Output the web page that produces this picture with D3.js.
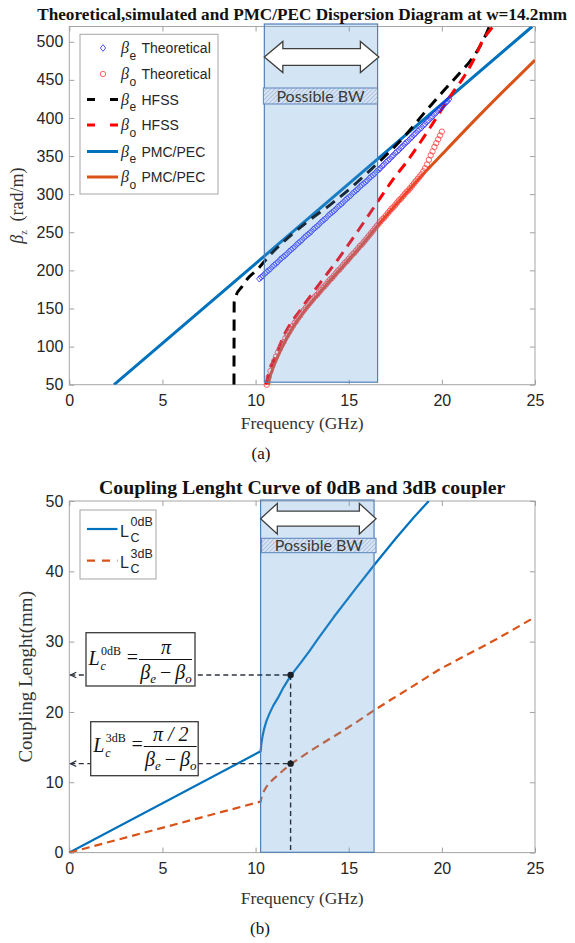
<!DOCTYPE html>
<html>
<head>
<meta charset="utf-8">
<script src="https://cdn.jsdelivr.net/npm/d3@7"></script>
<style>
  body { margin: 0; background: #fff; }
  svg { display: block; font-family: "Liberation Sans", Arial, sans-serif; }
</style>
</head>
<body>
<svg id="chart" width="575" height="943"></svg>
<script>
// ---- data ----
const xTicks = [0, 5, 10, 15, 20, 25];
const yTicksTop = [50, 100, 150, 200, 250, 300, 350, 400, 450, 500];
const yTicksBottom = [0, 10, 20, 30, 40, 50];

// (a) dispersion, [GHz, rad/m]
const betaEPmc = [[2.4, 50], [10, 208.9], [17, 355.4], [24.85, 520]];
const betaOPmc = [[10.7, 50], [10.75, 58], [10.85, 66], [10.95, 73], [11.1, 82], [11.4, 98], [11.9, 121],
  [12.3, 136], [12.7, 149], [13.8, 181], [14.9, 211], [15.8, 236], [16.6, 260], [17.6, 288], [18.8, 321],
  [20, 352], [22, 403], [25, 476]];
const betaEHfss = [[8.84, 50], [8.845, 110], [8.85, 158], [8.95, 167], [9.25, 178], [9.6, 190], [10.05, 200],
  [10.77, 220], [11.66, 241], [12.74, 263], [14, 286], [15.24, 311], [16, 328], [17, 351], [18, 376],
  [19, 405], [20, 433], [21, 460], [21.5, 474], [22, 492], [22.3, 506], [22.55, 520]];
const betaOHfss = [[10.55, 50], [10.6, 55], [10.8, 72], [11.04, 86], [11.57, 117], [12.4, 148], [13.45, 183],
  [14.5, 217], [15.5, 252], [16.5, 288], [17.4, 320], [18.1, 342], [19.44, 390], [20.6, 434],
  [21.1, 451], [21.7, 476], [22.2, 502], [22.75, 520]];
const betaETheory = [[10.2, 189], [10.3, 191], [10.4, 193], [10.5, 196], [10.6, 198], [10.7, 200], [10.8, 202],
  [10.9, 205], [11.0, 207], [11.1, 209], [11.2, 211], [11.3, 214], [11.4, 216], [11.5, 218], [11.6, 220],
  [11.7, 222], [11.8, 225], [11.9, 227], [12.0, 229], [12.1, 231], [12.2, 234], [12.3, 236], [12.4, 238],
  [12.5, 240], [12.6, 243], [12.7, 245], [12.8, 247], [12.9, 249], [13.0, 251], [13.1, 254], [13.2, 256],
  [13.3, 258], [13.4, 260], [13.5, 263], [13.6, 265], [13.7, 267], [13.8, 269], [13.9, 272], [14.0, 274],
  [14.1, 276], [14.2, 278], [14.3, 280], [14.4, 283], [14.5, 285], [14.6, 287], [14.7, 289], [14.8, 292],
  [14.9, 294], [15.0, 296], [15.1, 298], [15.2, 301], [15.3, 303], [15.4, 305], [15.5, 307], [15.6, 310],
  [15.7, 312], [15.8, 314], [15.9, 316], [16.0, 318], [16.1, 321], [16.2, 323], [16.3, 325], [16.4, 327],
  [16.5, 330], [16.6, 332], [16.7, 334], [16.8, 337], [16.9, 339], [17.0, 342], [17.1, 344], [17.2, 346],
  [17.3, 349], [17.4, 351], [17.5, 354], [17.6, 356], [17.7, 358], [17.8, 361], [17.9, 363], [18.0, 366],
  [18.1, 368], [18.2, 370], [18.3, 373], [18.4, 375], [18.5, 378], [18.6, 380], [18.7, 383], [18.8, 385],
  [18.9, 387], [19.0, 390], [19.1, 392], [19.2, 395], [19.3, 397], [19.4, 400], [19.5, 402], [19.6, 405],
  [19.7, 407], [19.8, 410], [19.9, 412], [20.0, 415], [20.1, 417], [20.2, 420], [20.3, 422], [20.4, 425]];
const betaOTheory = [[10.6, 50], [10.7, 60], [10.8, 68], [10.9, 75], [11.0, 81], [11.1, 87], [11.2, 92],
  [11.3, 97], [11.4, 102], [11.5, 106], [11.6, 111], [11.7, 115], [11.8, 119], [11.9, 123], [12.0, 127],
  [12.1, 131], [12.2, 134], [12.3, 138], [12.4, 141], [12.5, 145], [12.6, 148], [12.7, 151], [12.8, 154],
  [12.9, 157], [13.0, 160], [13.1, 163], [13.2, 166], [13.3, 168], [13.4, 171], [13.5, 174], [13.6, 177],
  [13.7, 179], [13.8, 182], [13.9, 185], [14.0, 188], [14.1, 190], [14.2, 193], [14.3, 196], [14.4, 199],
  [14.5, 201], [14.6, 204], [14.7, 207], [14.8, 210], [14.9, 212], [15.0, 215], [15.1, 218], [15.2, 221],
  [15.3, 223], [15.4, 226], [15.5, 229], [15.6, 232], [15.7, 234], [15.8, 237], [15.9, 240], [16.0, 243],
  [16.1, 246], [16.2, 249], [16.3, 252], [16.4, 255], [16.5, 258], [16.6, 261], [16.7, 264], [16.8, 267],
  [16.9, 269], [17.0, 272], [17.1, 275], [17.2, 278], [17.3, 281], [17.4, 283], [17.5, 286], [17.6, 289],
  [17.7, 292], [17.8, 294], [17.9, 297], [18.0, 300], [18.1, 303], [18.2, 305], [18.3, 308], [18.4, 311],
  [18.5, 314], [18.6, 317], [18.7, 320], [18.8, 323], [18.9, 326], [19.0, 330], [19.1, 334], [19.2, 339],
  [19.3, 345], [19.4, 351], [19.5, 356], [19.6, 362], [19.7, 367], [19.8, 372], [19.9, 377], [20.0, 382]];

// (b) coupling length, [GHz, mm]
const lc0dB = [[0, 0], [10.27, 14.4], [10.31, 15.5], [10.37, 16.5], [10.46, 17.6], [10.58, 18.7], [10.75, 19.8],
  [10.95, 20.9], [11.2, 22.0], [11.5, 23.5], [11.9, 25.2], [12.4, 26.9], [12.9, 28.7], [13.3, 30.2],
  [14.2, 33.5], [15.3, 37.3], [16.4, 41.0], [17.5, 44.6], [18.5, 47.7], [19.3, 50]];
const lc3dB = [[0, 0], [10.27, 7.25], [10.31, 7.8], [10.37, 8.3], [10.46, 8.8], [10.58, 9.35], [10.75, 9.9],
  [10.95, 10.45], [11.2, 11.0], [11.5, 11.75], [11.9, 12.6], [12.4, 13.5], [12.9, 14.4], [13.5, 15.4],
  [14.5, 17.0], [15.5, 18.7], [16.4, 20.3], [17.3, 21.8], [18.1, 23.1], [19.0, 24.6], [19.9, 26.1],
  [21.4, 28.2], [22.9, 30.3], [25, 33.5]];

const bwTop = [10.47, 16.55];
const bwBottom = [10.27, 16.36];
const markFreq = 11.88, markL0 = 25.26, markL3 = 12.65;

// ---- layout ----
const plotLeft = 69.3, plotW = 465.7;
const top1 = 26.5, h1 = 358.2;
const top2 = 501, h2 = 351.6;

const svg = d3.select("#chart");
const defs = svg.append("defs");

const hatch = defs.append("pattern")
    .attr("id", "hatch")
    .attr("patternUnits", "userSpaceOnUse")
    .attr("width", 3).attr("height", 3)
    .attr("patternTransform", "rotate(45)");
hatch.append("rect").attr("width", 3).attr("height", 3).attr("fill", "#d9e5f4");
hatch.append("line").attr("x1", 0).attr("y1", 0).attr("x2", 0).attr("y2", 3)
    .attr("stroke", "#7b9ccb").attr("stroke-width", 1);

const x1 = d3.scaleLinear().domain([0, 25]).range([0, plotW]);
const y1 = d3.scaleLinear().domain([50, 520]).range([h1, 0]);
const x2 = d3.scaleLinear().domain([0, 25]).range([0, plotW]);
const y2 = d3.scaleLinear().domain([0, 50]).range([h2, 0]);

const serif = "Liberation Serif, Times New Roman, serif";
const sans = "Liberation Sans, Arial, sans-serif";

function drawFrame(g, x, y, h, yTicks) {
  g.append("rect")
      .attr("width", plotW).attr("height", h)
      .attr("fill", "none").attr("stroke", "#a6a6a6");
  g.append("g").attr("transform", `translate(0,${h})`)
      .call(d3.axisBottom(x).tickValues(xTicks).tickSize(-5).tickSizeOuter(0).tickPadding(10));
  g.append("g")
      .call(d3.axisLeft(y).tickValues(yTicks).tickSize(-5).tickSizeOuter(0).tickPadding(6));
  g.append("g")
      .call(d3.axisTop(x).tickValues(xTicks).tickSize(-5).tickSizeOuter(0).tickFormat(""));
  g.append("g").attr("transform", `translate(${plotW},0)`)
      .call(d3.axisRight(y).tickValues(yTicks).tickSize(-5).tickSizeOuter(0).tickFormat(""));
  g.selectAll(".domain").remove();
  g.selectAll(".tick line").attr("stroke", "#a0a0a0");
  g.selectAll(".tick text")
      .attr("fill", "#262626")
      .attr("font-size", 16)
      .attr("font-family", sans);
}

function dblArrow(g, xa, xb, cy, headH, shaftH, headL) {
  const p = d3.path();
  p.moveTo(xa, cy);
  p.lineTo(xa + headL, cy - headH);
  p.lineTo(xa + headL, cy - shaftH);
  p.lineTo(xb - headL, cy - shaftH);
  p.lineTo(xb - headL, cy - headH);
  p.lineTo(xb, cy);
  p.lineTo(xb - headL, cy + headH);
  p.lineTo(xb - headL, cy + shaftH);
  p.lineTo(xa + headL, cy + shaftH);
  p.lineTo(xa + headL, cy + headH);
  p.closePath();
  g.append("path").attr("d", p.toString())
      .attr("fill", "#fff").attr("stroke", "#3f3f3f").attr("stroke-width", 1.3);
}

function bwBox(g, xa, xb, ya, yb, fs, base) {
  g.append("rect").attr("x", xa).attr("y", ya).attr("width", xb - xa).attr("height", yb - ya)
      .attr("fill", "url(#hatch)").attr("stroke", "#5a85bd").attr("stroke-width", 1);
  g.append("text").attr("x", (xa + xb) / 2).attr("y", base)
      .attr("text-anchor", "middle").attr("font-family", "Lato, Liberation Sans, sans-serif")
      .attr("font-size", fs).attr("fill", "#3a3a3a").text("Possible BW");
}

// ================= (a) =================
const g1 = svg.append("g").attr("transform", `translate(${plotLeft},${top1})`);
defs.append("clipPath").attr("id", "clip1").append("rect")
    .attr("width", plotW).attr("height", h1);

drawFrame(g1, x1, y1, h1, yTicksTop);

const line1 = d3.line().curve(d3.curveMonotoneX)
    .x(d => x1(d[0])).y(d => y1(d[1]));

const curves1 = g1.append("g").attr("clip-path", "url(#clip1)");
curves1.append("path").datum(betaEPmc).attr("d", line1)
    .attr("fill", "none").attr("stroke", "#0072BD").attr("stroke-width", 3);
curves1.append("path").datum(betaOPmc).attr("d", line1)
    .attr("fill", "none").attr("stroke", "#D95319").attr("stroke-width", 3);

g1.append("g").selectAll("path").data(betaETheory).join("path")
    .attr("transform", d => `translate(${x1(d[0])},${y1(d[1])})`)
    .attr("d", "M0,-3.3L2.7,0L0,3.3L-2.7,0Z")
    .attr("fill", "none").attr("stroke", "#2a2aff").attr("stroke-width", 0.8);
g1.append("g").selectAll("circle").data(betaOTheory).join("circle")
    .attr("cx", d => x1(d[0])).attr("cy", d => y1(d[1])).attr("r", 2.7)
    .attr("fill", "none").attr("stroke", "#ff3b3b").attr("stroke-width", 0.8);

curves1.append("path").datum(betaEHfss).attr("d", line1)
    .attr("fill", "none").attr("stroke", "#000").attr("stroke-width", 3)
    .attr("stroke-dasharray", "11,7");
curves1.append("path").datum(betaOHfss).attr("d", line1)
    .attr("fill", "none").attr("stroke", "#ff0000").attr("stroke-width", 3)
    .attr("stroke-dasharray", "11,7");

// possible bandwidth overlay
const bx1a = x1(bwTop[0]), bx1b = x1(bwTop[1]);
g1.append("rect").attr("x", bx1a).attr("y", -2.5).attr("width", bx1b - bx1a).attr("height", h1)
    .attr("fill", "#5b9bd5").attr("fill-opacity", 0.27)
    .attr("stroke", "#5480b8").attr("stroke-width", 1.2);
dblArrow(g1, bx1a, bx1b + 1.3, 30.5, 15.5, 8.3, 18.5);
bwBox(g1, bx1a - 1, bx1b, 61.5, 77.5, 16, 75);

// legend (a)
const leg1 = svg.append("g");
leg1.append("rect").attr("x", 80).attr("y", 34.3).attr("width", 138).attr("height", 159.7)
    .attr("fill", "#fff").attr("stroke", "#a6a6a6");
const legRows1 = [
  {y: 48, sub: "e", label: "Theoretical", kind: "diamond"},
  {y: 74, sub: "o", label: "Theoretical", kind: "circle"},
  {y: 99.5, sub: "e", label: "HFSS", kind: "dash", color: "#000"},
  {y: 125, sub: "o", label: "HFSS", kind: "dash", color: "#ff0000"},
  {y: 151.5, sub: "e", label: "PMC/PEC", kind: "line", color: "#0072BD"},
  {y: 177, sub: "o", label: "PMC/PEC", kind: "line", color: "#D95319"}
];
legRows1.forEach(r => {
  if (r.kind === "diamond") {
    leg1.append("path").attr("transform", `translate(103,${r.y})`)
        .attr("d", "M0,-3.3L2.7,0L0,3.3L-2.7,0Z")
        .attr("fill", "none").attr("stroke", "#2a2aff").attr("stroke-width", 0.8);
  } else if (r.kind === "circle") {
    leg1.append("circle").attr("cx", 103).attr("cy", r.y).attr("r", 2.7)
        .attr("fill", "none").attr("stroke", "#ff3b3b").attr("stroke-width", 0.8);
  } else {
    leg1.append("line").attr("x1", 87).attr("x2", 118).attr("y1", r.y).attr("y2", r.y)
        .attr("stroke", r.color).attr("stroke-width", 3)
        .attr("stroke-dasharray", r.kind === "dash" ? "8,15" : null);
  }
  const t = leg1.append("text").attr("y", r.y + 5.3).attr("fill", "#262626");
  t.append("tspan").attr("x", 121).attr("font-family", serif).attr("font-style", "italic")
      .attr("font-size", 16).text("β");
  t.append("tspan").attr("x", 129.5).attr("dy", 6.5).attr("font-family", sans)
      .attr("font-size", 12).text(r.sub);
  t.append("tspan").attr("x", 141.5).attr("dy", -6.5).attr("font-family", sans)
      .attr("font-size", 14).text(r.label);
});

// titles and labels (a)
svg.append("text").attr("x", plotLeft + plotW / 2).attr("y", 19.5)
    .attr("text-anchor", "middle").attr("font-family", serif).attr("font-weight", "bold")
    .attr("font-size", 17.2).attr("fill", "#111")
    .text("Theoretical,simulated and PMC/PEC Dispersion Diagram at w=14.2mm");
const yl1 = svg.append("text")
    .attr("transform", `translate(23,${top1 + h1 / 2}) rotate(-90)`)
    .attr("text-anchor", "middle").attr("font-family", serif).attr("font-size", 18).attr("fill", "#333");
yl1.append("tspan").attr("font-style", "italic").text("β");
yl1.append("tspan").attr("font-size", 10).attr("dy", 4).text("z");
yl1.append("tspan").attr("dy", -4).text("\u2002(rad/m)");
svg.append("text").attr("x", plotLeft + plotW / 2).attr("y", 428.5)
    .attr("text-anchor", "middle").attr("font-family", serif).attr("font-size", 17.5).attr("fill", "#333")
    .text("Frequency (GHz)");
svg.append("text").attr("x", 261).attr("y", 459)
    .attr("text-anchor", "middle").attr("font-family", serif).attr("font-size", 17).attr("fill", "#111")
    .text("(a)");

// ================= (b) =================
const g2 = svg.append("g").attr("transform", `translate(${plotLeft},${top2})`);
defs.append("clipPath").attr("id", "clip2").append("rect")
    .attr("width", plotW).attr("height", h2);

drawFrame(g2, x2, y2, h2, yTicksBottom);

const line2 = d3.line()
    .x(d => x2(d[0])).y(d => y2(d[1]));
const curves2 = g2.append("g").attr("clip-path", "url(#clip2)");
curves2.append("path").datum(lc0dB).attr("d", line2)
    .attr("fill", "none").attr("stroke", "#0072BD").attr("stroke-width", 2.2)
    .attr("stroke-linejoin", "round");
curves2.append("path").datum(lc3dB).attr("d", line2)
    .attr("fill", "none").attr("stroke", "#D95319").attr("stroke-width", 2.2)
    .attr("stroke-dasharray", "8,5");

const bx2a = x2(bwBottom[0]), bx2b = x2(bwBottom[1]);
g2.append("rect").attr("x", bx2a).attr("y", -1).attr("width", bx2b - bx2a).attr("height", h2 + 0.7)
    .attr("fill", "#5b9bd5").attr("fill-opacity", 0.27)
    .attr("stroke", "#5480b8").attr("stroke-width", 1.2);
dblArrow(g2, bx2a, bx2b + 2, 17.7, 15.3, 7.5, 16.7);
bwBox(g2, bx2a + 1, bx2b + 2, 37.3, 51.7, 16, 50);

// marked point: dashed guides, dots
const mx = x2(markFreq), my0 = y2(markL0), my3 = y2(markL3);
const guide = g2.append("g").attr("stroke", "#2d3440").attr("stroke-width", 1.4)
    .attr("stroke-dasharray", "5,3.5").attr("fill", "none");
guide.append("line").attr("x1", 1).attr("x2", mx).attr("y1", my0).attr("y2", my0);
guide.append("line").attr("x1", 1).attr("x2", mx).attr("y1", my3).attr("y2", my3);
guide.append("line").attr("x1", mx).attr("x2", mx).attr("y1", my0).attr("y2", h2);
[my0, my3].forEach(yy => {
  g2.append("path").attr("d", `M7,${yy - 2.8}L1.2,${yy}L7,${yy + 2.8}`)
      .attr("fill", "none").attr("stroke", "#2d3440").attr("stroke-width", 1.2);
  g2.append("circle").attr("cx", mx).attr("cy", yy).attr("r", 3.2).attr("fill", "#1b1f26");
});

// formula boxes
function fracBox(bx, by, bw, bh, sup, num, base) {
  const f = svg.append("g").attr("font-family", serif).attr("fill", "#111");
  f.append("rect").attr("x", bx).attr("y", by).attr("width", bw).attr("height", bh)
      .attr("fill", "#fff").attr("stroke", "#3a3a3a").attr("stroke-width", 1.3);
  // L with superscript and subscript, kept in one text element
  const lt = f.append("text").attr("y", base);
  lt.append("tspan").attr("x", bx + 2.5).attr("font-style", "italic").attr("font-size", 20).text("L");
  lt.append("tspan").attr("x", bx + 15).attr("dy", -10.5).attr("font-size", 12).text(sup);
  lt.append("tspan").attr("x", bx + 14.5).attr("dy", 15).attr("font-style", "italic")
      .attr("font-size", 12).text("c");
  f.append("text").attr("x", bx + 46.5).attr("y", base - 1).attr("text-anchor", "middle")
      .attr("font-size", 20).text("=");
  const cx = bx + 80, bar = base - 5.5;
  f.append("line").attr("x1", bx + 53).attr("x2", bx + 106).attr("y1", bar).attr("y2", bar)
      .attr("stroke", "#111").attr("stroke-width", 1);
  f.append("text").attr("x", cx).attr("y", bar - 6).attr("text-anchor", "middle")
      .attr("font-size", 20).attr("font-style", "italic").text(num);
  const d = f.append("text").attr("x", cx).attr("y", bar + 19).attr("text-anchor", "middle")
      .attr("font-size", 20);
  d.append("tspan").attr("font-style", "italic").text("β");
  d.append("tspan").attr("font-style", "italic").attr("font-size", 13).attr("dy", 4).text("e");
  d.append("tspan").attr("dy", -4).text("\u2009\u2212\u2009");
  d.append("tspan").attr("font-style", "italic").text("β");
  d.append("tspan").attr("font-style", "italic").attr("font-size", 13).attr("dy", 4).text("o");
}
fracBox(86, 632.7, 109, 53.3, "0dB", "π", 665);
fracBox(90.7, 721.7, 107.5, 54, "3dB", "π / 2", 752);

// legend (b)
const leg2 = svg.append("g");
leg2.append("rect").attr("x", 80).attr("y", 510).attr("width", 76).attr("height", 69)
    .attr("fill", "#fff").attr("stroke", "#a6a6a6");
const legRows2 = [
  {y: 529, sup: "0dB", color: "#0072BD", dash: null},
  {y: 560.7, sup: "3dB", color: "#D95319", dash: "8,7"}
];
legRows2.forEach(r => {
  leg2.append("line").attr("x1", 87).attr("x2", 117.5).attr("y1", r.y).attr("y2", r.y)
      .attr("stroke", r.color).attr("stroke-width", 2.2).attr("stroke-dasharray", r.dash);
  const t = leg2.append("text").attr("y", r.y + 7.5).attr("font-family", sans).attr("fill", "#262626");
  t.append("tspan").attr("x", 120).attr("font-size", 16).text("L");
  t.append("tspan").attr("x", 130.5).attr("dy", -10.5).attr("font-size", 12.5).text(r.sup);
  t.append("tspan").attr("x", 130.5).attr("dy", 15.7).attr("font-size", 12.5).text("C");
});

// titles and labels (b)
svg.append("text").attr("x", plotLeft + plotW / 2).attr("y", 493.5)
    .attr("text-anchor", "middle").attr("font-family", serif).attr("font-weight", "bold")
    .attr("font-size", 19.8).attr("fill", "#111")
    .text("Coupling Lenght Curve of 0dB and 3dB coupler");
svg.append("text")
    .attr("transform", `translate(32,${top2 + h2 / 2}) rotate(-90)`)
    .attr("text-anchor", "middle").attr("font-family", serif).attr("font-size", 19).attr("fill", "#333")
    .text("Coupling Lenght(mm)");
svg.append("text").attr("x", plotLeft + plotW / 2).attr("y", 904)
    .attr("text-anchor", "middle").attr("font-family", serif).attr("font-size", 17.5).attr("fill", "#333")
    .text("Frequency (GHz)");
svg.append("text").attr("x", 260).attr("y", 934)
    .attr("text-anchor", "middle").attr("font-family", serif).attr("font-size", 17).attr("fill", "#111")
    .text("(b)");
</script>
</body>
</html>
